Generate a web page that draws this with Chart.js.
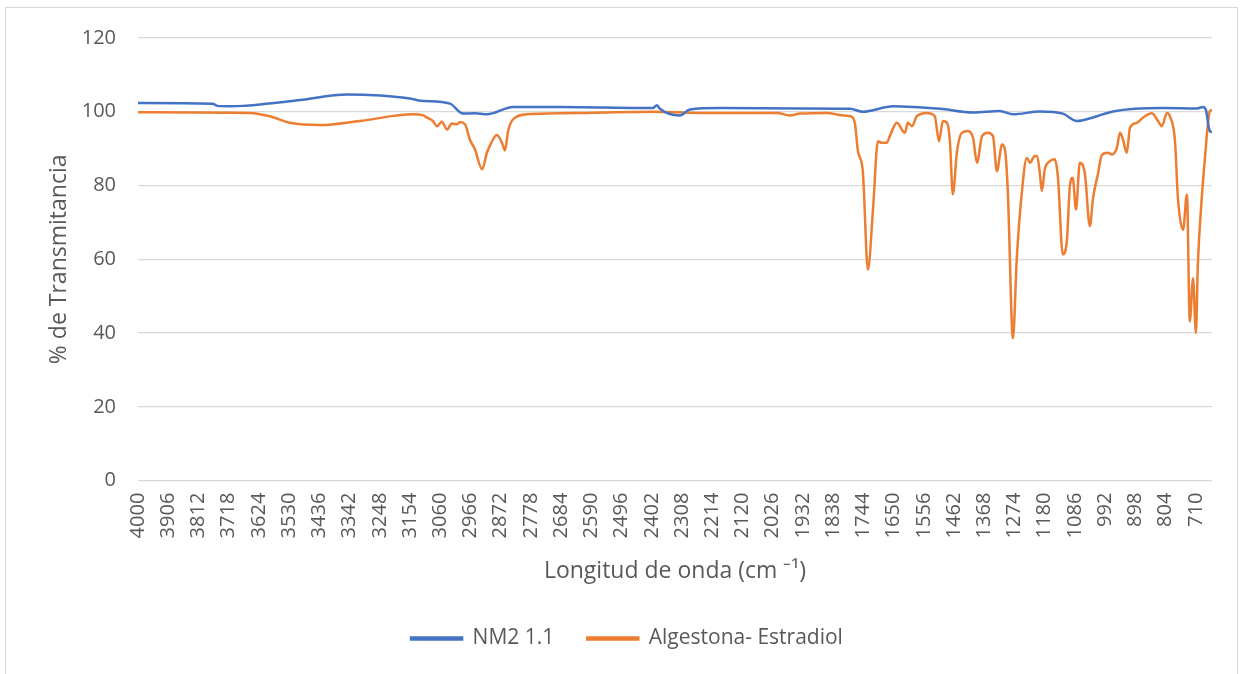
<!DOCTYPE html>
<html>
<head>
<meta charset="utf-8">
<script src="https://cdn.jsdelivr.net/npm/chart.js@4"></script>
<style>
  html, body { margin: 0; padding: 0; background: #fff; }
  #frame {
    position: absolute; left: 5px; top: 7px; width: 1233px; height: 680px;
    border: 1px solid #d9d9d9; box-sizing: border-box;
  }
  #wrap { position: absolute; left: 0; top: 0; width: 1240px; height: 674px; }
</style>
</head>
<body>
<div id="frame"></div>
<div id="wrap"><canvas id="chart" width="1240" height="674"></canvas></div>
<script>
// x tick labels (cm-1)
const tickLabels = [4000, 3906, 3812, 3718, 3624, 3530, 3436, 3342, 3248, 3154, 3060, 2966,
  2872, 2778, 2684, 2590, 2496, 2402, 2308, 2214, 2120, 2026, 1932, 1838, 1744, 1650,
  1556, 1462, 1368, 1274, 1180, 1086, 992, 898, 804, 710];

// NM2 1.1
const nmWave = [4000, 3767, 3754, 3714, 3673, 3621, 3496, 3350, 3247, 3154, 3123, 3030, 2989,
  2952, 2915, 2834, 2688, 2399, 2386, 2377, 2315, 2284, 2190, 1941, 1786, 1746, 1652, 1506,
  1403, 1320, 1279, 1195, 1124, 1080, 1018, 968, 813, 707, 688, 679, 667, 660];
const nmValues = [102.4, 102.2, 101.6, 101.5, 101.6, 102.0, 103.2, 104.7, 104.4, 103.6, 103.0, 102.2, 99.5,
  99.6, 99.3, 101.3, 101.3, 101.0, 101.8, 100.8, 99.0, 100.6, 101.0, 100.9, 100.8, 100.0, 101.5, 100.8,
  99.8, 100.2, 99.3, 100.1, 99.5, 97.5, 98.8, 100.1, 101.0, 100.9, 101.3, 100.5, 94.8, 94.5];

// Algestona- Estradiol
const aeWave = [4000, 3652, 3590, 3527, 3434, 3310, 3145, 3114, 3101, 3083, 3070, 3055, 3039,
  3024, 3008, 2999, 2983, 2968, 2952, 2930, 2915, 2899, 2884, 2868, 2859, 2849, 2834, 2790,
  2604, 2399, 2252, 2013, 1973, 1941, 1857, 1817, 1786, 1777, 1770, 1761, 1746, 1730, 1714,
  1699, 1686, 1671, 1662, 1640, 1615, 1606, 1593, 1578, 1547, 1522, 1509, 1497, 1484, 1475,
  1466, 1453, 1438, 1419, 1403, 1391, 1375, 1357, 1341, 1329, 1313, 1304, 1295, 1279, 1267,
  1251, 1236, 1226, 1211, 1204, 1195, 1189, 1180, 1164, 1149, 1139, 1124, 1111, 1102, 1093,
  1083, 1071, 1055, 1040, 1030, 1015, 1002, 984, 971, 956, 946, 937, 925, 915, 894, 875, 847,
  828, 816, 800, 791, 775, 766, 750, 738, 729, 719, 710, 704, 691, 682, 667, 660];
const aeValues = [99.9, 99.7, 98.8, 97.0, 96.4, 97.5, 99.3, 99.1, 98.4, 97.5, 96.1, 97.3, 95.2,
  96.8, 96.6, 97.2, 96.6, 92.5, 89.8, 84.4, 88.9, 92.0, 93.7, 91.6, 89.5, 94.8, 97.9, 99.3,
  99.7, 100.0, 99.7, 99.7, 99.0, 99.5, 99.7, 99.1, 98.8, 98.4, 96.6, 89.3, 83.9, 57.2, 73.9,
  92.0, 91.6, 91.6, 93.4, 97.0, 94.3, 97.0, 96.1, 98.8, 99.7, 98.8, 92.0, 97.5, 97.0, 92.0,
  77.6, 89.3, 94.3, 94.8, 92.9, 86.2, 93.4, 94.3, 93.4, 83.9, 91.1, 89.8, 78.5, 38.6, 60.4,
  78.5, 87.5, 86.2, 88.0, 88.0, 83.0, 78.5, 84.4, 86.6, 87.1, 82.1, 61.3, 65.4, 79.8, 82.1,
  73.5, 86.2, 83.0, 69.0, 76.6, 83.0, 88.4, 88.9, 88.4, 90.2, 94.3, 92.5, 88.9, 95.7, 97.0, 98.4, 99.6,
  97.5, 96.1, 99.7, 98.8, 92.0, 76.6, 68.0, 77.6, 43.2, 54.9, 40.0, 58.6, 77.6, 87.5, 100.1, 100.5];

const toPoints = (xs, ys) => xs.map((x, i) => ({ x: x, y: ys[i] }));

const font = "'Open Sans', sans-serif";
const textColor = "#595959";

new Chart(document.getElementById("chart"), {
  type: "line",
  data: {
    datasets: [
      {
        label: "NM2 1.1",
        data: toPoints(nmWave, nmValues),
        borderColor: "#4472C4",
        backgroundColor: "#4472C4",
        borderWidth: 2.5,
        pointRadius: 0,
        cubicInterpolationMode: "monotone"
      },
      {
        label: "Algestona- Estradiol",
        data: toPoints(aeWave, aeValues),
        borderColor: "#ED7D31",
        backgroundColor: "#ED7D31",
        borderWidth: 2.5,
        pointRadius: 0,
        cubicInterpolationMode: "monotone"
      }
    ]
  },
  options: {
    responsive: false,
    animation: false,
    layout: { padding: { left: 42, right: 28, top: 38, bottom: 15 } },
    plugins: {
      legend: {
        position: "bottom",
        labels: {
          boxWidth: 51,
          boxHeight: 2,
          padding: 33,
          color: textColor,
          font: { family: font, size: 21 }
        }
      },
      tooltip: { enabled: false }
    },
    scales: {
      x: {
        type: "linear",
        reverse: true,
        min: 660,
        max: 4000,
        afterBuildTicks: function (scale) {
          scale.ticks = tickLabels.map(v => ({ value: v }));
        },
        grid: { display: false },
        border: { display: false },
        ticks: {
          autoSkip: false,
          minRotation: 90,
          maxRotation: 90,
          padding: 4,
          color: textColor,
          font: { family: font, size: 20 },
          callback: v => String(v)
        },
        title: {
          display: true,
          text: "Longitud de onda (cm \u207B\u00B9)",
          color: textColor,
          font: { family: font, size: 23 },
          padding: { top: 15, bottom: 10 }
        }
      },
      y: {
        min: 0,
        max: 120,
        afterFit: function (scale) {
          scale.width = 96;
        },
        ticks: {
          stepSize: 20,
          padding: 22,
          color: textColor,
          font: { family: font, size: 20 }
        },
        grid: { color: "#d9d9d9", lineWidth: 1.3, drawTicks: false },
        border: { display: false },
        title: {
          display: true,
          text: "% de Transmitancia",
          color: textColor,
          font: { family: font, size: 23 },
          padding: { bottom: 16 }
        }
      }
    }
  }
});
</script>
</body>
</html>
